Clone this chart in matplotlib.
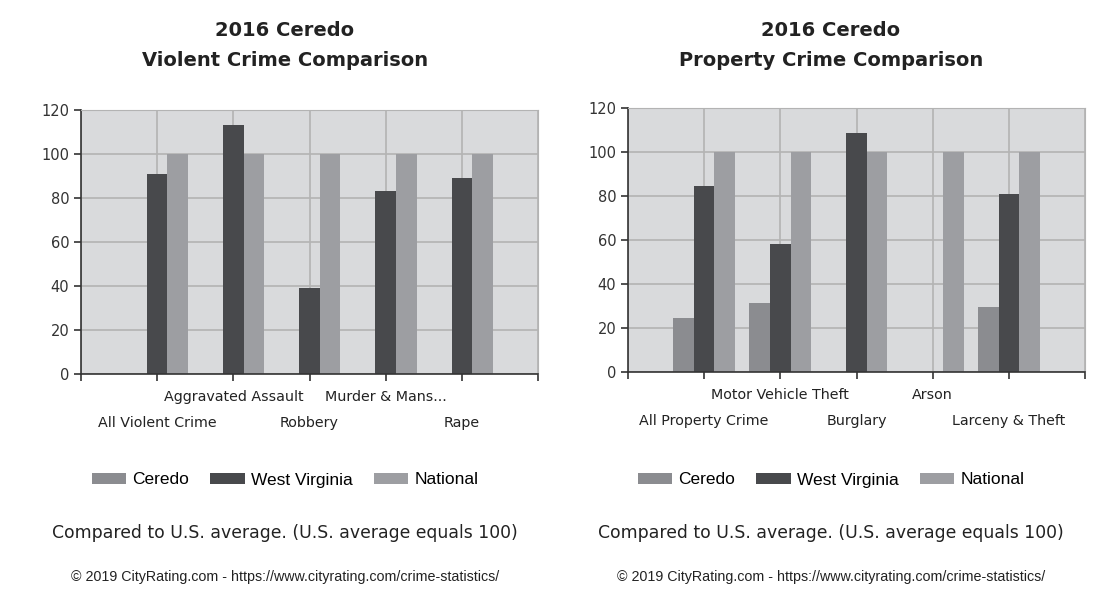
import matplotlib
matplotlib.use('Agg')
import matplotlib.pyplot as plt
import numpy as np
from matplotlib.patches import Patch

series = ['Ceredo', 'West Virginia', 'National']
colors = ['#8b8c90', '#48494c', '#9d9ea2']

violent_cats = ['All Violent Crime', 'Aggravated Assault', 'Robbery', 'Murder & Mans...', 'Rape']
violent_ceredo = [0, 0, 0, 0, 0]
violent_wv = [91, 113, 39, 83, 89]
violent_nat = [100, 100, 100, 100, 100]

property_cats = ['All Property Crime', 'Motor Vehicle Theft', 'Burglary', 'Arson', 'Larceny & Theft']
property_ceredo = [24.7, 31.2, 0, 0, 29.7]
property_wv = [84.4, 58.3, 108.6, 0, 80.9]
property_nat = [100, 100, 100, 100, 100]

W, H = 1111, 593
fig = plt.figure(figsize=(W / 100, H / 100), dpi=100)
fig.set_facecolor('white')

arial = ['Liberation Sans', 'DejaVu Sans']


def draw_panel(rect, cats, vals, title, cx):
    ax = fig.add_axes(rect)
    ax.set_facecolor('#d9dadc')
    x = np.arange(1, len(cats) + 1)
    bw = 0.27
    for k, (v, c) in enumerate(zip(vals, colors)):
        ax.bar(x + (k - 1) * bw, v, width=bw, color=c, zorder=2)
    n = len(cats)
    ax.set_xlim(0, n + 1)
    ax.set_ylim(0, 120)
    ax.set_yticks(range(0, 121, 20))

    # staggered labels: odd categories on the upper row (major), even on the lower row (minor)
    major = [0] + [i + 1 for i in range(n) if i % 2 == 1] + [n + 1]
    minor = [i + 1 for i in range(n) if i % 2 == 0]
    ax.set_xticks(major)
    ax.set_xticklabels([''] + [cats[i] for i in range(n) if i % 2 == 1] + [''])
    ax.set_xticks(minor, minor=True)
    ax.set_xticklabels([cats[i] for i in range(n) if i % 2 == 0], minor=True)

    ax.grid(True, which='both', axis='x', color='#b3b3b3', linewidth=1.2, zorder=0)
    ax.grid(True, which='major', axis='y', color='#b3b3b3', linewidth=1.2, zorder=0)
    ax.set_axisbelow(True)
    for s in ['top', 'right']:
        ax.spines[s].set_color('#b3b3b3')
    for s in ['left', 'bottom']:
        ax.spines[s].set_color('#333333')
        ax.spines[s].set_linewidth(1.2)
    ax.tick_params(axis='both', which='both', direction='out', length=5, color='#333333', width=1.2)
    ax.tick_params(axis='y', labelsize=10.5, labelcolor='#333333')
    ax.tick_params(axis='x', which='major', pad=6.5, labelsize=10.3, labelcolor='#222222')
    ax.tick_params(axis='x', which='minor', pad=25.5, labelsize=10.3, labelcolor='#222222')

    fig.text(cx / W, 1 - 30 / H, title[0], ha='center', va='center', fontsize=14, fontweight='bold', color='#222222')
    fig.text(cx / W, 1 - 60 / H, title[1], ha='center', va='center', fontsize=14, fontweight='bold', color='#222222')

    handles = [Patch(facecolor=c, edgecolor='none') for c in colors]
    fig.legend(handles, series, loc='center', bbox_to_anchor=(cx / W, 1 - 480 / H), ncol=3, frameon=False,
               handlelength=2.0, handleheight=0.55, handletextpad=0.35, columnspacing=1.2,
               prop={'family': arial, 'size': 12.5})
    fig.text(cx / W, 1 - 533 / H, 'Compared to U.S. average. (U.S. average equals 100)', ha='center', va='center',
             fontsize=12.4, color='#222222')
    fig.text(cx / W, 1 - 577 / H, '\u00a9 2019 CityRating.com - https://www.cityrating.com/crime-statistics/',
             ha='center', va='center', fontsize=10.3, color='#222222', family=arial)
    return ax


draw_panel([81 / W, 1 - 374 / H, 457 / W, 264 / H], violent_cats,
           [violent_ceredo, violent_wv, violent_nat], ['2016 Ceredo', 'Violent Crime Comparison'], 285)
draw_panel([628 / W, 1 - 372 / H, 457 / W, 264 / H], property_cats,
           [property_ceredo, property_wv, property_nat], ['2016 Ceredo', 'Property Crime Comparison'], 831)

fig.savefig('out.png', dpi=100, facecolor='white')
